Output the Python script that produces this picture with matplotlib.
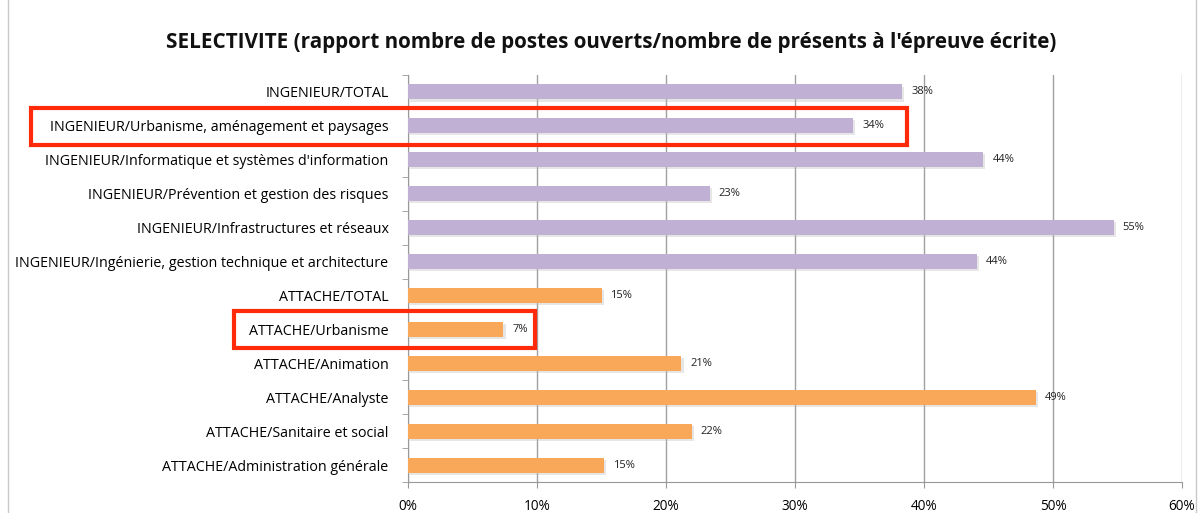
import matplotlib
matplotlib.use("Agg")
import matplotlib.pyplot as plt
from matplotlib.patches import Rectangle
import matplotlib.transforms as mtransforms

categories = [
    "INGENIEUR/TOTAL",
    "INGENIEUR/Urbanisme, aménagement et paysages",
    "INGENIEUR/Informatique et systèmes d'information",
    "INGENIEUR/Prévention et gestion des risques",
    "INGENIEUR/Infrastructures et réseaux",
    "INGENIEUR/Ingénierie, gestion technique et architecture",
    "ATTACHE/TOTAL",
    "ATTACHE/Urbanisme",
    "ATTACHE/Animation",
    "ATTACHE/Analyste",
    "ATTACHE/Sanitaire et social",
    "ATTACHE/Administration générale",
]
values = [38.3, 34.5, 44.6, 23.4, 54.7, 44.1, 15.0, 7.4, 21.2, 48.7, 22.0, 15.2]
value_labels = ["38%", "34%", "44%", "23%", "55%", "44%", "15%", "7%", "21%", "49%", "22%", "15%"]
groups = ["I"] * 6 + ["A"] * 6
xticks = [0, 10, 20, 30, 40, 50, 60]
xtick_labels = ["0%", "10%", "20%", "30%", "40%", "50%", "60%"]
title = "SELECTIVITE (rapport nombre de postes ouverts/nombre de présents à l'épreuve écrite)"

PURPLE = "#BFB0D4"
ORANGE = "#F9A85A"
FONT = ["Open Sans", "DejaVu Sans"]

fig = plt.figure(figsize=(12.04, 5.13), dpi=100)
ax = fig.add_axes([408 / 1204, 1 - 482 / 513, (1182 - 408) / 1204, (482 - 75) / 513])

n = len(categories)
ypos = list(range(n))
colors = [PURPLE if g == "I" else ORANGE for g in groups]

# subtle shadow
shadow = mtransforms.offset_copy(ax.transData, fig=fig, x=1.5, y=-1.5, units="points")
ax.barh(ypos, values, height=0.44, color="#b8b8b8", alpha=0.35, transform=shadow, zorder=2)
ax.barh(ypos, values, height=0.44, color=colors, zorder=3)

for y, v, lab in zip(ypos, values, value_labels):
    ax.text(v + 0.7, y, lab, va="center", ha="left", fontsize=8.0, family=FONT, color="#222222", zorder=4)

ax.set_ylim(n - 0.5, -0.5)
ax.set_xlim(0, 60)
ax.set_xticks(xticks)
ax.set_xticklabels(xtick_labels, family=FONT, fontsize=9.8)
ax.set_yticks(ypos)
ax.set_yticklabels(categories, family=FONT, fontsize=10.3)
ax.set_yticks([i - 0.5 for i in range(n + 1)], minor=True)
ax.tick_params(axis="y", which="major", length=0, pad=14)
ax.tick_params(axis="y", which="minor", length=4, color="#999999", direction="out")
ax.tick_params(axis="x", length=4, color="#999999", direction="out", pad=8)

ax.grid(axis="x", color="#a0a0a0", linewidth=1.0, zorder=1)
ax.set_axisbelow(True)
for s in ["top", "right"]:
    ax.spines[s].set_visible(False)
ax.spines["left"].set_color("#999999")
ax.spines["bottom"].set_color("#999999")

fig.text(611 / 1204, 1 - 43 / 513, title, ha="center", va="center", fontsize=14.9,
         fontweight="bold", family=FONT, color="#111111")

# outer frame
fig.patches.append(Rectangle((8 / 1204, -0.01), (1196 - 8) / 1204, 1.02, transform=fig.transFigure,
                             fill=False, edgecolor="#c8c8c8", linewidth=1.0))

# red highlight boxes
for (x0, y0, x1, y1) in [(31, 108, 907, 145), (234, 311, 535, 348)]:
    fig.patches.append(Rectangle((x0 / 1204, 1 - y1 / 513), (x1 - x0) / 1204, (y1 - y0) / 513,
                                 transform=fig.transFigure, fill=False, edgecolor="#FF2A0A",
                                 linewidth=3.0, zorder=10))

fig.savefig("out.png", dpi=100)
